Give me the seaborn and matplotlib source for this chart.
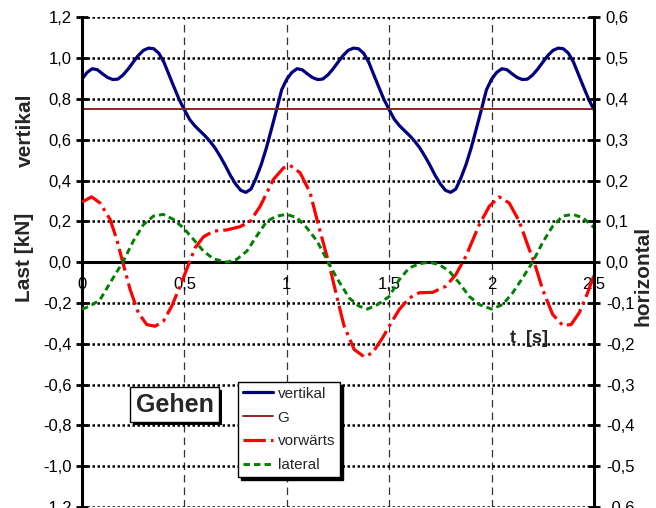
import matplotlib
matplotlib.use("Agg")
import matplotlib.pyplot as plt
import matplotlib.patheffects as pe
import seaborn as sns

sns.set_style("white")
plt.rcParams["font.family"] = ["Liberation Sans", "DejaVu Sans"]

# ---- data -------------------------------------------------------------
# vertical load [kN], sampled every 0.025 s
t_vert = [
    0.000, 0.025, 0.050, 0.075, 0.100, 0.125, 0.150, 0.175, 0.200, 0.225,
    0.250, 0.275, 0.300, 0.325, 0.350, 0.375, 0.400, 0.425, 0.450, 0.475,
    0.500, 0.525, 0.550, 0.575, 0.600, 0.625, 0.650, 0.675, 0.700, 0.725,
    0.750, 0.775, 0.800, 0.825, 0.850, 0.875, 0.900, 0.925, 0.950, 0.975,
    1.000, 1.025, 1.050, 1.075, 1.100, 1.125, 1.150, 1.175, 1.200, 1.225,
    1.250, 1.275, 1.300, 1.325, 1.350, 1.375, 1.400, 1.425, 1.450, 1.475,
    1.500, 1.525, 1.550, 1.575, 1.600, 1.625, 1.650, 1.675, 1.700, 1.725,
    1.750, 1.775, 1.800, 1.825, 1.850, 1.875, 1.900, 1.925, 1.950, 1.975,
    2.000, 2.025, 2.050, 2.075, 2.100, 2.125, 2.150, 2.175, 2.200, 2.225,
    2.250, 2.275, 2.300, 2.325, 2.350, 2.375, 2.400, 2.425, 2.450, 2.475,
    2.500,
]
vertikal = [
    0.897, 0.930, 0.948, 0.943, 0.923, 0.905, 0.895, 0.897, 0.917, 0.946,
    0.980, 1.013, 1.038, 1.049, 1.046, 1.024, 0.980, 0.918, 0.856, 0.796,
    0.747, 0.700, 0.669, 0.644, 0.620, 0.592, 0.559, 0.518, 0.473, 0.424,
    0.383, 0.352, 0.342, 0.358, 0.412, 0.478, 0.559, 0.652, 0.747, 0.845,
    0.897, 0.930, 0.948, 0.943, 0.923, 0.905, 0.895, 0.897, 0.917, 0.946,
    0.980, 1.013, 1.038, 1.049, 1.046, 1.024, 0.980, 0.918, 0.856, 0.796,
    0.747, 0.700, 0.669, 0.644, 0.620, 0.592, 0.559, 0.518, 0.473, 0.424,
    0.383, 0.352, 0.342, 0.358, 0.412, 0.478, 0.559, 0.652, 0.747, 0.845,
    0.897, 0.930, 0.948, 0.943, 0.923, 0.905, 0.895, 0.897, 0.917, 0.946,
    0.980, 1.013, 1.038, 1.049, 1.046, 1.024, 0.980, 0.918, 0.856, 0.796,
    0.747,
]

# dead weight G [kN]
t_G = [0.0, 2.5]
G = [0.75, 0.75]

# horizontal load, forward direction [kN]
t_vor = [
    0.000, 0.047, 0.088, 0.137, 0.170, 0.199, 0.235, 0.275, 0.316, 0.357,
    0.397, 0.438, 0.479, 0.520, 0.552, 0.593, 0.642, 0.707, 0.772, 0.821,
    0.870, 0.935, 0.984, 1.016, 1.065, 1.114, 1.147, 1.187, 1.204, 1.244,
    1.280, 1.329, 1.378, 1.419, 1.467, 1.500, 1.549, 1.598, 1.647, 1.712,
    1.777, 1.826, 1.875, 1.940, 1.989, 2.037, 2.086, 2.135, 2.184, 2.208,
    2.249, 2.298, 2.347, 2.388, 2.428, 2.469, 2.500,
]
vorwaerts = [
    0.147, 0.160, 0.145, 0.105, 0.055, 0.000, -0.067, -0.124, -0.153, -0.157,
    -0.145, -0.108, -0.059, -0.006, 0.035, 0.062, 0.076, 0.079, 0.087, 0.100,
    0.137, 0.203, 0.231, 0.237, 0.219, 0.170, 0.105, 0.031, 0.000, -0.084,
    -0.157, -0.214, -0.232, -0.222, -0.186, -0.157, -0.116, -0.088, -0.075, -0.074,
    -0.059, -0.030, 0.015, 0.092, 0.137, 0.160, 0.145, 0.100, 0.031, 0.000,
    -0.067, -0.128, -0.155, -0.153, -0.124, -0.075, -0.032,
]

# horizontal load, lateral direction [kN]
t_lat = [
    0.000, 0.039, 0.088, 0.137, 0.199, 0.251, 0.300, 0.349, 0.397, 0.446,
    0.495, 0.544, 0.593, 0.642, 0.707, 0.756, 0.805, 0.853, 0.902, 0.951,
    1.000, 1.049, 1.098, 1.147, 1.195, 1.244, 1.305, 1.353, 1.394, 1.443,
    1.500, 1.549, 1.598, 1.647, 1.695, 1.744, 1.793, 1.842, 1.891, 1.940,
    2.000, 2.054, 2.103, 2.151, 2.200, 2.249, 2.298, 2.347, 2.396, 2.445,
    2.500,
]
lateral = [
    -0.115, -0.108, -0.092, -0.051, 0.000, 0.052, 0.092, 0.113, 0.117, 0.105,
    0.084, 0.056, 0.027, 0.008, 0.000, 0.007, 0.027, 0.064, 0.100, 0.113,
    0.117, 0.109, 0.084, 0.052, 0.007, -0.039, -0.088, -0.108, -0.115, -0.104,
    -0.084, -0.043, -0.014, -0.004, 0.000, -0.006, -0.022, -0.051, -0.084, -0.104,
    -0.115, -0.104, -0.075, -0.039, 0.000, 0.048, 0.088, 0.113, 0.117, 0.109,
    0.085,
]

x_ticks = [0, 0.5, 1, 1.5, 2, 2.5]
x_tick_labels = ["0", "0,5", "1", "1,5", "2", "2,5"]
left_ticks = [-1.2, -1.0, -0.8, -0.6, -0.4, -0.2, 0.0, 0.2, 0.4, 0.6, 0.8, 1.0, 1.2]
right_ticks = [-0.6, -0.5, -0.4, -0.3, -0.2, -0.1, 0.0, 0.1, 0.2, 0.3, 0.4, 0.5, 0.6]
series_labels = ["vertikal", "G", "vorwärts", "lateral"]


def comma(v):
    return f"{v:.1f}".replace(".", ",")


# ---- figure -----------------------------------------------------------
W, H = 656, 508
fig = plt.figure(figsize=(W / 100, H / 100), dpi=100)
ax = fig.add_axes([82 / W, 1 / H, 512 / W, (507 - 17.3) / H])
ax.set_facecolor("white")

ax.set_xlim(0, 2.5)
ax.set_ylim(-1.2, 1.2)
ax2 = ax.twinx()
ax2.set_ylim(-0.6, 0.6)

# grid
ax.set_axisbelow(True)
ax.yaxis.grid(True, color="black", linestyle=(0, (1.0, 1.0)), linewidth=1.8)
ax.xaxis.grid(True, color="#333333", linestyle=(0, (6, 4)), linewidth=0.9)

# vertical-scale series
sns.lineplot(x=t_vert, y=vertikal, ax=ax, color="#000080", linewidth=2.3,
             label=series_labels[0], legend=False, sort=False)
sns.lineplot(x=t_G, y=G, ax=ax, color="#8E2626", linewidth=1.4,
             label=series_labels[1], legend=False, sort=False)

# horizontal-scale series
sns.lineplot(x=t_vor, y=vorwaerts, ax=ax2, color="#FF0000", linewidth=2.3,
             linestyle=(0, (7.0, 1.6, 1.0, 1.6)),
             label=series_labels[2], legend=False, sort=False)
sns.lineplot(x=t_lat, y=lateral, ax=ax2, color="#008000", linewidth=2.1,
             linestyle=(0, (2.2, 1.4)),
             label=series_labels[3], legend=False, sort=False)

# axes cosmetics
for s in ("top", "right"):
    ax.spines[s].set_visible(False)
ax.spines["left"].set_linewidth(2.2)
ax.spines["left"].set_color("black")
ax.spines["bottom"].set_position(("data", 0))
ax.spines["bottom"].set_linewidth(2.2)
ax.spines["bottom"].set_color("black")
for s in ("top", "left", "bottom"):
    ax2.spines[s].set_visible(False)
ax2.spines["right"].set_linewidth(2.2)
ax2.spines["right"].set_color("black")

ax.set_xticks(x_ticks)
ax.set_xticklabels(x_tick_labels)
ax.set_yticks(left_ticks)
ax.set_yticklabels([comma(v) for v in left_ticks])
ax2.set_yticks(right_ticks)
ax2.set_yticklabels([comma(v) for v in right_ticks])
ax.set_xlabel("")
ax.set_ylabel("")
ax2.set_ylabel("")

ax.tick_params(axis="y", direction="inout", length=9, width=2, labelsize=12,
               pad=3, colors="black")
ax.tick_params(axis="x", direction="inout", length=9, width=2, labelsize=12,
               pad=6, colors="black")
ax2.tick_params(axis="y", direction="inout", length=9, width=2, labelsize=12,
                pad=4, colors="black")

# axis titles
fig.text(25 / W, 1 - 130 / H, "vertikal", rotation=90, ha="center",
         va="center", fontsize=15, fontweight="bold")
fig.text(25 / W, 1 - 257 / H, "Last [kN]", rotation=90, ha="center",
         va="center", fontsize=15, fontweight="bold")
fig.text(643 / W, 1 - 276 / H, "horizontal", rotation=90, ha="center",
         va="center", fontsize=15, fontweight="bold")
ax.text(2.183, -0.374, "t  [s]", ha="center", va="center", fontsize=13,
        fontweight="bold")

# legend
handles = ax.get_lines() + ax2.get_lines()
leg = ax2.legend(handles, series_labels, loc="upper left",
                 bbox_to_anchor=((238 - 82) / 512, (507 - 382) / 489.7),
                 borderaxespad=0, frameon=True, fancybox=False,
                 shadow={"color": "black", "alpha": 1}, fontsize=11,
                 handlelength=2.0, handletextpad=0.3, labelspacing=0.65,
                 borderpad=0.3, edgecolor="black", framealpha=1)
leg.get_frame().set_linewidth(1.0)
leg.set_zorder(10)

# title box
txt = ax2.text((174.5 - 82) / 512, (507 - 404.5) / 489.7, "Gehen",
               transform=ax2.transAxes, ha="center", va="center",
               fontsize=18, fontweight="bold", zorder=10,
               bbox=dict(boxstyle="square,pad=0.22", fc="white", ec="black",
                         lw=1.0))
txt.get_bbox_patch().set_path_effects(
    [pe.SimplePatchShadow(offset=(2, -2), shadow_rgbFace="black", alpha=1),
     pe.Normal()])

fig.savefig("out.png", dpi=100, facecolor="white")
